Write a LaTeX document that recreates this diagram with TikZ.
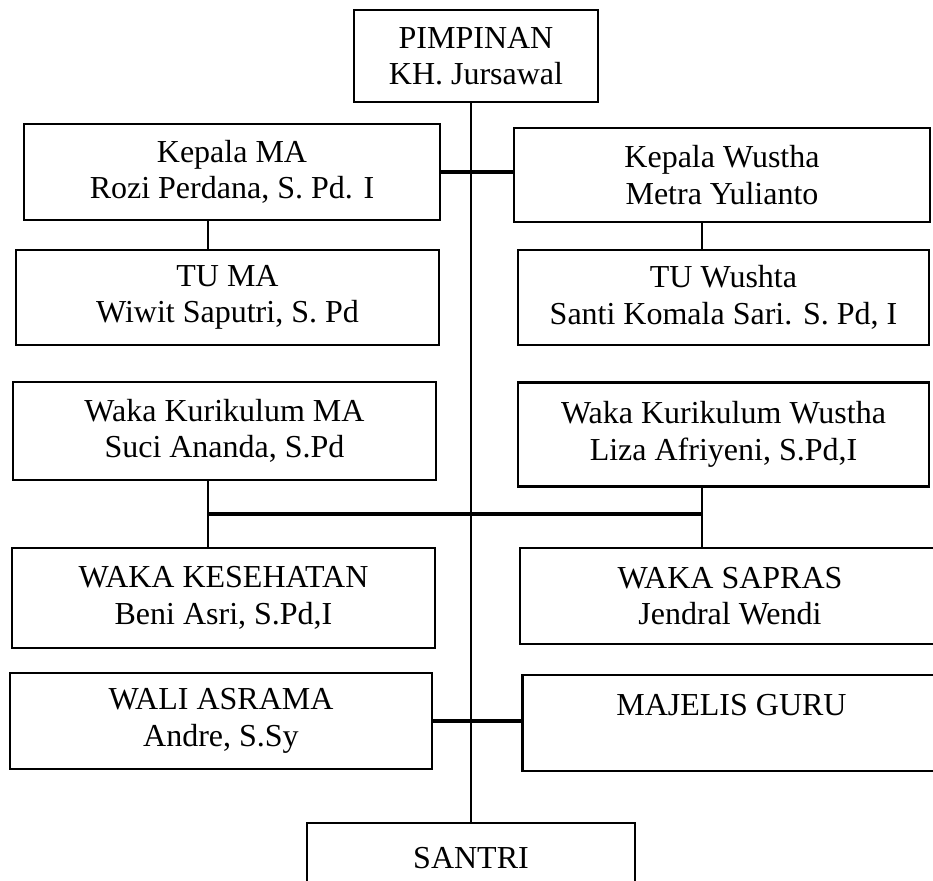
\documentclass[tikz,border=0pt]{standalone}
\usepackage{fontspec}
\setmainfont{Liberation Serif}
\tikzset{
	unit-box/.style={draw, line width=1.9pt, align=center, inner sep=0pt, font=\fontsize{24pt}{27.5pt}\selectfont},
	link/.style={line width=2.2pt},
	bar/.style={line width=3.2pt}
}

\begin{document}
\begin{tikzpicture}[x=0.75pt, y=-0.75pt]
				\useasboundingbox (0, 0) rectangle (933, 881);
				\clip (0, 0) rectangle (933, 881);

				\node[unit-box, minimum width=183pt, minimum height=69pt] at (476, 56) (pimpinan) {PIMPINAN\\KH. Jursawal};

				\node[unit-box, minimum width=312pt, minimum height=72pt] at (232, 172) (kepala-ma) {Kepala MA\\Rozi Perdana, S. Pd. I};
				\node[unit-box, minimum width=312pt, minimum height=70.5pt] at (722, 175) (kepala-wustha) {Kepala Wustha\\Metra Yulianto};

				\node[unit-box, minimum width=317pt, minimum height=71pt] at (227.5, 297.5) (tu-ma) {TU MA\\Wiwit Saputri, S. Pd};
				\node[unit-box, minimum width=308pt, minimum height=71pt] at (723.5, 297.5) (tu-wustha) {TU Wushta\\Santi Komala Sari. S. Pd, I};

				\node[unit-box, minimum width=317pt, minimum height=73.5pt] at (224.5, 431) (waka-kurikulum-ma) {Waka Kurikulum MA\\Suci Ananda, S.Pd};
				\node[unit-box, minimum width=308pt, minimum height=78pt] at (723.5, 434.5) (waka-kurikulum-wustha) {Waka Kurikulum Wustha\\Liza Afriyeni, S.Pd,I};

				\node[unit-box, minimum width=317pt, minimum height=75pt] at (223.5, 598) (waka-kesehatan) {WAKA KESEHATAN\\Beni Asri, S.Pd,I};
				\node[unit-box, minimum width=315pt, minimum height=72pt] at (730, 596) (waka-sapras) {WAKA SAPRAS\\Jendral Wendi};

				\node[unit-box, minimum width=316.5pt, minimum height=72pt] at (221, 721) (wali-asrama) {WALI ASRAMA\\Andre, S.Sy};
				\node[unit-box, minimum width=313.5pt, minimum height=72pt, text height=17pt, text depth=29pt] at (731.5, 723) (majelis-guru) {MAJELIS GURU};

				\node[unit-box, minimum width=246pt, minimum height=72pt, text height=17pt, text depth=21.5pt] at (471, 871) (santri) {SANTRI};

				\coordinate (junction-ma) at (208, 514);
				\coordinate (junction-wustha) at (702, 514);

				\draw[link] (santri.north |- pimpinan.south) -- (santri.north);
				\draw[bar] (kepala-ma.east) -- (kepala-ma.east -| kepala-wustha.west);
				\draw[link] (kepala-ma.south -| junction-ma) -- (tu-ma.north -| junction-ma);
				\draw[link] (kepala-wustha.south -| junction-wustha) -- (tu-wustha.north -| junction-wustha);
				\draw[link] (waka-kurikulum-ma.south -| junction-ma) -- (waka-kesehatan.north -| junction-ma);
				\draw[link] (waka-kurikulum-wustha.south -| junction-wustha) -- (waka-sapras.north -| junction-wustha);
				\draw[bar] (junction-ma) -- (junction-wustha);
				\draw[bar] (wali-asrama.east) -- (wali-asrama.east -| majelis-guru.west);
			\end{tikzpicture}
\end{document}
